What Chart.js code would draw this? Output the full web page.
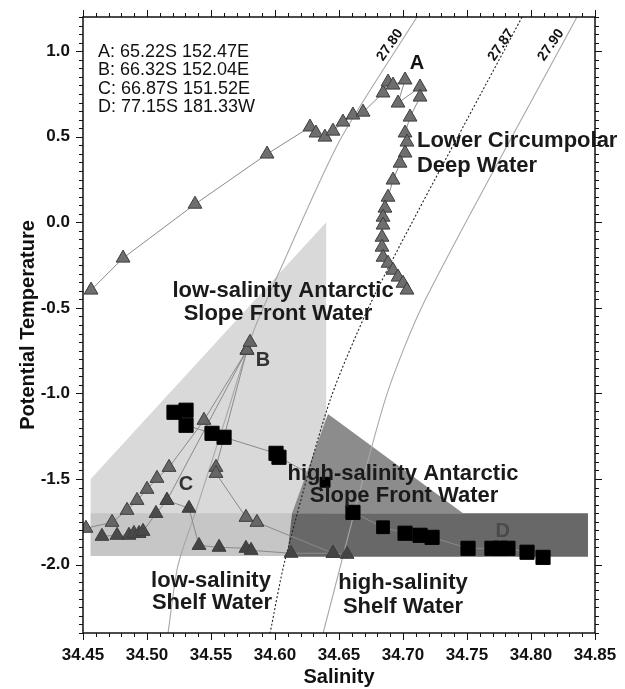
<!DOCTYPE html>
<html><head><meta charset="utf-8">
<script src="https://cdn.jsdelivr.net/npm/chart.js@4.4.1/dist/chart.umd.min.js"></script>
<style>html,body{margin:0;padding:0;background:#fff;}</style>
</head><body>
<canvas id="c" width="625" height="689"></canvas>
<script>
// ---------- data ----------
const xTickValues = [34.45, 34.50, 34.55, 34.60, 34.65, 34.70, 34.75, 34.80, 34.85];
const yTickValues = [-2.0, -1.5, -1.0, -0.5, 0.0, 0.5, 1.0];

// Station A (triangles, connected profile)
const stationA_S = [34.4563,34.4813,34.5375,34.5938,34.6273,34.6320,34.6390,34.6453,34.6531,34.6609,34.6688,34.6844,34.6883,34.6922,34.7016,34.6961,34.7133,34.7133,34.7055,34.7016,34.7031,34.7016,34.6977,34.6922,34.6883,34.6859,34.6844,34.6844,34.6836,34.6836,34.6844,34.6883,34.6922,34.6961,34.7000,34.7031];
const stationA_T = [-0.396,-0.209,0.106,0.399,0.557,0.522,0.498,0.533,0.586,0.627,0.644,0.756,0.820,0.802,0.832,0.697,0.791,0.732,0.615,0.522,0.469,0.405,0.346,0.247,0.147,0.083,0.030,-0.016,-0.087,-0.145,-0.204,-0.239,-0.280,-0.320,-0.356,-0.396];

// Stations B / C (triangles, several connected profiles)
const profile1_S = [34.4523,34.4727,34.4844,34.4922,34.5000,34.5078,34.5172,34.5445,34.5781,34.5805];
const profile1_T = [-1.788,-1.753,-1.683,-1.625,-1.560,-1.496,-1.432,-1.157,-0.747,-0.701];
const profile2_S = [34.4648,34.4766,34.4859,34.4898,34.4938,34.4969,34.5070,34.5156,34.5781];
const profile2_T = [-1.835,-1.829,-1.829,-1.818,-1.818,-1.806,-1.701,-1.625,-0.747];
const profile3_S = [34.5156,34.5328,34.5406,34.5563,34.5773,34.5813,34.6125,34.6453,34.6563];
const profile3_T = [-1.625,-1.671,-1.888,-1.899,-1.905,-1.917,-1.934,-1.934,-1.940];
const profile4_S = [34.5781,34.5539,34.5539,34.5773,34.5859,34.6453];
const profile4_T = [-0.747,-1.432,-1.467,-1.724,-1.753,-1.934];

// Station D (squares)
const stationD_S = [34.5211,34.5305,34.5305,34.5508,34.5602,34.6008,34.6031,34.6391,34.6609,34.6844,34.7016,34.7133,34.7227,34.7508,34.7695,34.7758,34.7820,34.7969,34.8094];
const stationD_T = [-1.110,-1.098,-1.186,-1.233,-1.256,-1.350,-1.373,-1.519,-1.695,-1.782,-1.817,-1.829,-1.841,-1.905,-1.905,-1.905,-1.905,-1.928,-1.958];
const stationD_size = [10,10,10,10,10,10,10,7,10,9,10,10,10,10,10,10,10,10,10];

// Isopycnals (sigma-theta)
const isoLabels = ['27.80', '27.87', '27.90'];
const iso2780_S = [34.7109,34.6508,34.6039,34.5820,34.5609,34.5383,34.5242,34.5164];
const iso2780_T = [1.2,0.481,-0.280,-0.660,-1.157,-1.683,-2.005,-2.402];
const iso2787_S = [34.7930,34.6797,34.6430,34.6078,34.5961];
const iso2787_T = [1.2,-0.396,-1.040,-1.975,-2.402];
const iso2790_S = [34.8359,34.7172,34.6859,34.6375];
const iso2790_T = [1.2,-0.455,-1.040,-2.402];

// Water-mass regions (polygon outlines)
const lowASFW_S = [34.456,34.640,34.640,34.456,34.456];
const lowASFW_T = [-1.50,0.00,-1.95,-1.95,-1.50];
const lowShelfBand_S = [34.456,34.6133,34.6094,34.456,34.456];
const lowShelfBand_T = [-1.70,-1.70,-1.95,-1.95,-1.70];
const highASFW_S = [34.6133,34.6414,34.7469,34.6133];
const highASFW_T = [-1.70,-1.12,-1.70,-1.70];
const highShelfBand_S = [34.6133,34.8445,34.8445,34.6094,34.6133];
const highShelfBand_T = [-1.70,-1.70,-1.955,-1.955,-1.70];

const stationLegend = ['A: 65.22S 152.47E', 'B: 66.32S 152.04E', 'C: 66.87S 151.52E', 'D: 77.15S 181.33W'];

// ---------- build ----------
const FONT = '"Liberation Sans", Arial, Helvetica, sans-serif';
const pts = (S, T) => S.map((s, i) => ({x: s, y: T[i]}));

function region(S, T, color, order) {
  return {data: pts(S, T), fill: 'shape', backgroundColor: color, borderWidth: 0, pointRadius: 0, order: order, tension: 0};
}
function iso(S, T, color, dash, order) {
  return {data: pts(S, T), fill: false, borderColor: color, borderWidth: 1.1, borderDash: dash, pointRadius: 0, tension: 0.25, order: order};
}
function tri(S, T, fillC) {
  return {data: pts(S, T), fill: false, borderColor: '#8a8a8a', borderWidth: 1, pointStyle: 'triangle', pointRadius: 8,
    pointBackgroundColor: fillC, pointBorderColor: '#3d3d3d', pointBorderWidth: 1, tension: 0, order: 2};
}

const datasets = [
  region(lowASFW_S, lowASFW_T, '#d9d9d9', 20),
  region(lowShelfBand_S, lowShelfBand_T, '#c6c6c6', 19),
  region(highASFW_S, highASFW_T, '#8c8c8c', 18),
  region(highShelfBand_S, highShelfBand_T, '#686868', 17),
  iso(iso2780_S, iso2780_T, '#a8a8a8', [], 10),
  iso(iso2787_S, iso2787_T, '#222', [2, 2], 10),
  iso(iso2790_S, iso2790_T, '#a8a8a8', [], 10),
  tri(stationA_S, stationA_T, '#6e6e6e'),
  tri(profile1_S, profile1_T, '#666'),
  tri(profile2_S, profile2_T, '#4a4a4a'),
  tri(profile3_S, profile3_T, '#444'),
  tri(profile4_S, profile4_T, '#666'),
  {data: pts(stationD_S, stationD_T), fill: false, borderColor: '#8a8a8a', borderWidth: 1, pointStyle: 'rect',
    pointRadius: stationD_size, pointBackgroundColor: '#000', pointBorderColor: '#000', pointBorderWidth: 1, order: 1}
];

const notes = [
  {t: 'A', s: 34.711, v: 0.931, f: 'bold 20px', a: 'center', b: 'middle', c: '#111'},
  {t: 'B', s: 34.5906, v: -0.806, f: 'bold 20px', a: 'center', b: 'middle', c: '#333'},
  {t: 'C', s: 34.5305, v: -1.531, f: 'bold 20px', a: 'center', b: 'middle', c: '#333'},
  {t: 'D', s: 34.778, v: -1.806, f: 'bold 20px', a: 'center', b: 'middle', c: '#4a4a4a'},
  {t: 'Lower Circumpolar', s: 34.7109, v: 0.4398, f: 'bold 22px', a: 'left', b: 'alphabetic', c: '#1a1a1a'},
  {t: 'Deep Water', s: 34.7109, v: 0.2936, f: 'bold 22px', a: 'left', b: 'alphabetic', c: '#1a1a1a'},
  {t: 'low-salinity Antarctic', s: 34.6063, v: -0.4374, f: 'bold 22px', a: 'center', b: 'alphabetic', c: '#1a1a1a'},
  {t: 'Slope Front Water', s: 34.6023, v: -0.572, f: 'bold 22px', a: 'center', b: 'alphabetic', c: '#1a1a1a'},
  {t: 'high-salinity Antarctic', s: 34.70, v: -1.5076, f: 'bold 22px', a: 'center', b: 'alphabetic', c: '#1a1a1a'},
  {t: 'Slope Front Water', s: 34.7008, v: -1.636, f: 'bold 22px', a: 'center', b: 'alphabetic', c: '#1a1a1a'},
  {t: 'low-salinity', s: 34.55, v: -2.133, f: 'bold 22px', a: 'center', b: 'alphabetic', c: '#1a1a1a'},
  {t: 'Shelf Water', s: 34.5508, v: -2.262, f: 'bold 22px', a: 'center', b: 'alphabetic', c: '#1a1a1a'},
  {t: 'high-salinity', s: 34.70, v: -2.145, f: 'bold 22px', a: 'center', b: 'alphabetic', c: '#1a1a1a'},
  {t: 'Shelf Water', s: 34.70, v: -2.285, f: 'bold 22px', a: 'center', b: 'alphabetic', c: '#1a1a1a'}
];
const isoLabelPos = [[34.6898, 1.036], [34.7766, 1.036], [34.8156, 1.036]];

const overlay = {
  id: 'overlay',
  afterDatasetsDraw(chart) {
    const {ctx, chartArea: a, scales: {x, y}} = chart;
    ctx.save();
    // isopycnal labels
    ctx.fillStyle = '#111';
    ctx.font = 'bold 14px ' + FONT;
    ctx.textAlign = 'center'; ctx.textBaseline = 'middle';
    isoLabels.forEach((lab, i) => {
      ctx.save();
      ctx.translate(x.getPixelForValue(isoLabelPos[i][0]), y.getPixelForValue(isoLabelPos[i][1]));
      ctx.rotate(-55 * Math.PI / 180);
      ctx.fillText(lab, 0, 0);
      ctx.restore();
    });
    // station legend
    ctx.font = '18px ' + FONT;
    ctx.textAlign = 'left'; ctx.textBaseline = 'middle';
    const lx = x.getPixelForValue(34.4617), ly = y.getPixelForValue(0.995);
    stationLegend.forEach((s, i) => ctx.fillText(s, lx, ly + i * 18.3));
    // annotations
    notes.forEach(n => {
      ctx.font = n.f + ' ' + FONT; ctx.fillStyle = n.c;
      ctx.textAlign = n.a; ctx.textBaseline = n.b;
      ctx.fillText(n.t, x.getPixelForValue(n.s), y.getPixelForValue(n.v));
    });
    // frame
    ctx.strokeStyle = '#111';
    ctx.lineWidth = 1.5;
    ctx.strokeRect(a.left, a.top, a.right - a.left, a.bottom - a.top);
    // ticks
    ctx.lineWidth = 1;
    ctx.beginPath();
    for (let i = 0; i <= 40; i++) {
      const px = Math.round(x.getPixelForValue(34.45 + i * 0.01)) + 0.5;
      const len = i % 5 === 0 ? 7 : 4;
      ctx.moveTo(px, a.bottom); ctx.lineTo(px, a.bottom + len);
      ctx.moveTo(px, a.top); ctx.lineTo(px, a.top - len);
    }
    for (let i = 0; i <= 72; i++) {
      const py = Math.round(y.getPixelForValue(-2.4 + i * 0.05)) + 0.5;
      const len = (i - 8) % 10 === 0 ? 7 : 4;
      ctx.moveTo(a.left, py); ctx.lineTo(a.left - len, py);
      ctx.moveTo(a.right, py); ctx.lineTo(a.right + len, py);
    }
    ctx.stroke();
    ctx.restore();
  }
};

new Chart(document.getElementById('c'), {
  type: 'line',
  data: {datasets},
  options: {
    responsive: false,
    animation: false,
    layout: {autoPadding: false, padding: {top: 17, right: 30, left: 0, bottom: 0}},
    plugins: {legend: {display: false}, tooltip: {enabled: false}},
    scales: {
      x: {
        type: 'linear', min: 34.45, max: 34.85,
        grid: {display: false, drawTicks: false}, border: {display: false},
        afterBuildTicks: s => { s.ticks = xTickValues.map(v => ({value: v})); },
        afterFit: s => { s.height = 56; s.paddingLeft = 0; s.paddingRight = 0; },
        ticks: {padding: 12, color: '#111', font: {family: FONT, size: 17, weight: 'bold'}, maxRotation: 0,
          callback: v => Number(v).toFixed(2)},
        title: {display: true, text: 'Salinity', color: '#111', font: {family: FONT, size: 20, weight: 'bold'}, padding: {top: 0, bottom: 0}}
      },
      y: {
        type: 'linear', min: -2.4, max: 1.2,
        grid: {display: false, drawTicks: false}, border: {display: false},
        afterBuildTicks: s => { s.ticks = yTickValues.map(v => ({value: v})); },
        afterFit: s => { s.width = 83; s.paddingTop = 0; s.paddingBottom = 0; },
        ticks: {padding: 13, color: '#111', font: {family: FONT, size: 17, weight: 'bold'},
          callback: v => Number(v).toFixed(1)},
        title: {display: true, text: 'Potential Temperature', color: '#111', font: {family: FONT, size: 20, weight: 'bold'}, padding: {top: 16, bottom: 0}}
      }
    }
  },
  plugins: [overlay]
});
</script>
</body></html>
